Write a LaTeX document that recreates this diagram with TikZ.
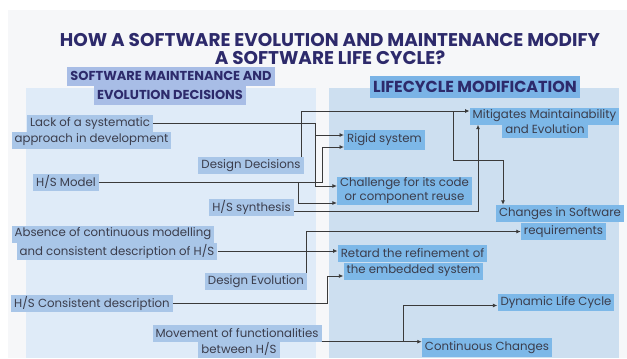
\documentclass[tikz,border=0pt]{standalone}
\usepackage{fontspec}
\setmainfont{Poppins}
\usepackage{tikz}
\usetikzlibrary{arrows.meta,positioning,calc}

\definecolor{bgpage}{HTML}{F6F7F9}
\definecolor{leftpanel}{HTML}{DFEBF8}
\definecolor{rightpanel}{HTML}{CDDFF0}
\definecolor{leftbox}{HTML}{A9C6E8}
\definecolor{rightbox}{HTML}{7DB8E8}
\definecolor{headleft}{HTML}{A8BDE6}
\definecolor{headright}{HTML}{7AB3E6}
\definecolor{navy}{HTML}{2D2A6B}
\definecolor{ink}{HTML}{3B3D4C}
\definecolor{wire}{HTML}{3A3A3A}

\begin{document}
\begin{tikzpicture}[
    x=1bp, y=-1bp,
    every node/.style={inner xsep=3bp, inner ysep=0bp, minimum height=17bp, text=ink, font=\fontsize{11.8}{14}\selectfont},
    cause/.style={fill=leftbox},
    effect/.style={fill=rightbox},
    title/.style={text=navy, font=\bfseries\fontsize{18.5}{20}\selectfont},
    heading/.style={text=navy, font=\bfseries\fontsize{13}{15}\selectfont, minimum height=19bp},
    arr/.style={draw=wire, line width=0.9bp, -{Latex[length=4.5bp,width=4bp]}},
]
\useasboundingbox (0,0) rectangle (627,358);

% Backgrounds
\fill[bgpage] (8,10) rectangle (627,358);
\fill[leftpanel] (26,88) rectangle (316,358);
\fill[rightpanel] (329,88) rectangle (619,358);

% Title
\node[title] (title1) at (330,40) {HOW A SOFTWARE EVOLUTION AND MAINTENANCE MODIFY};
\node[title] (title2) at (330,58) {A SOFTWARE LIFE CYCLE?};

% Column headings
\node[heading, fill=headleft] (lhead1) at (171,76) {SOFTWARE MAINTENANCE AND};
\node[heading, fill=headleft] (lhead2) at (170,95) {EVOLUTION DECISIONS};
\node[heading, fill=headright, font=\bfseries\fontsize{16}{18}\selectfont, minimum height=22bp] (rhead) at (475,87) {LIFECYCLE MODIFICATION};

% Decisions (left)
\node[cause] (lack1) at (90,123.5) {Lack of a systematic};
\node[cause] (lack2) at (91.5,140) {approach in development};
\node[cause] (dd) at (251,165.5) {Design Decisions};
\node[cause] (hsm) at (66,182) {H/S Model};
\node[cause] (hss) at (251.5,207.5) {H/S synthesis};
\node[cause] (abs1) at (113,234) {Absence of continuous modelling};
\node[cause] (abs2) at (117,251) {and consistent description of H/S};
\node[cause] (de) at (256,281.5) {Design Evolution};
\node[cause] (hsc) at (92,303.5) {H/S Consistent description};
\node[cause] (mov1) at (237,333) {Movement of functionalities};
\node[cause] (mov2) at (239,349) {between H/S};

% Modifications (right)
\node[effect] (mitig1) at (544.5,116) {Mitigates Maintainability};
\node[effect] (mitig2) at (545,129.5) {and Evolution};
\node[effect, minimum height=20bp] (rigid) at (384.5,140) {Rigid system};
\node[effect, align=center, inner ysep=1bp] (chal) at (404.5,191) {Challenge for its code\\or component reuse};
\node[effect] (chg1) at (560,213.5) {Changes in Software};
\node[effect] (chg2) at (563.5,231.5) {requirements};
\node[effect] (ret1) at (412.5,253.5) {Retard the refinement of};
\node[effect] (ret2) at (413.5,271) {the embedded system};
\node[effect] (dyn) at (556,302.5) {Dynamic Life Cycle};
\node[effect, minimum height=19bp] (cont) at (487,347.5) {Continuous Changes};

% Wire columns
\coordinate (xdd) at (301,0);
\coordinate (xlack) at (315,0);
\coordinate (xhsm) at (322,0);
\coordinate (xhsmb) at (298,0);
\coordinate (xhss) at (478,0);
\coordinate (xde) at (306,0);
\coordinate (xhsc) at (327,0);
\coordinate (xmov) at (403,0);
\coordinate (jtop) at (453,111);
\coordinate (jmid) at (503,160);

% Connectors
\draw[arr] (dd.north -| xdd) |- (mitig1.west |- jtop);
\draw[arr] (dd.north -| xdd) |- (jtop) |- (jmid) -- (chg1.north -| jmid);
\draw[arr] (lack1.east) -- (lack1.east -| xlack) |- ([yshift=5bp]rigid.west);
\draw[arr] (lack1.east) -- (lack1.east -| xlack) |- ([yshift=5bp]chal.west);
\draw[arr] (hsm.east) -- (hsm.east -| xhsm) |- ([yshift=-7bp]rigid.west);
\draw[arr] (hsm.east) -- (hsm.east -| xhsmb) |- ([yshift=-12bp]chal.west);
\draw[arr] ([yshift=-4bp]hss.east) -| (mitig1.south -| xhss);
\draw[arr] (abs2.east) -- (abs2.east -| ret1.west);
\draw[arr] (de.north -| xde) |- (chg2.west);
\draw[arr] (hsc.east) -- (hsc.east -| xhsc) |- ([yshift=-5bp]ret2.west);
\draw[arr] (mov1.south east) -- (mov1.south east -| cont.west);
\draw[arr] (mov1.south east) -- (mov1.south east -| xmov) |- ([yshift=-3bp]dyn.west);

\end{tikzpicture}
\end{document}
